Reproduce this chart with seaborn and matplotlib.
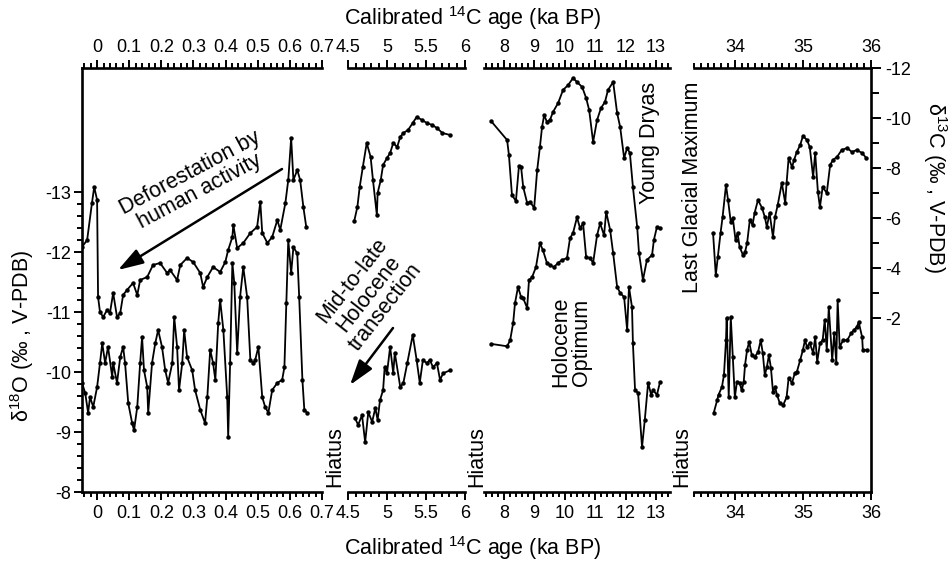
import numpy as np
import matplotlib
matplotlib.use("Agg")
import matplotlib.pyplot as plt
import seaborn as sns
from matplotlib.ticker import FixedLocator, MultipleLocator, FuncFormatter
from matplotlib.patches import FancyArrowPatch

sns.set_style("ticks")
plt.rcParams["font.family"] = ["Liberation Sans", "DejaVu Sans"]
plt.rcParams["mathtext.fontset"] = "custom"
plt.rcParams["mathtext.rm"] = "Liberation Sans"
plt.rcParams["mathtext.it"] = "Liberation Sans:italic"
plt.rcParams["axes.unicode_minus"] = False
for key in ("text.color", "axes.labelcolor", "xtick.color", "ytick.color", "axes.edgecolor"):
    plt.rcParams[key] = "black"

# ---------------- data: recent (0-0.7 ka) ----------------
age_c13_recent = [-0.047, -0.031, -0.016, -0.009, 0.000, 0.003, 0.009, 0.019, 0.031, 0.040,
                  0.050, 0.062, 0.072, 0.081, 0.093, 0.112, 0.125, 0.134, 0.156, 0.174,
                  0.196, 0.218, 0.227, 0.249, 0.259, 0.280, 0.299, 0.321, 0.330, 0.343,
                  0.361, 0.383, 0.399, 0.408, 0.421, 0.424, 0.436, 0.455, 0.477, 0.498,
                  0.508, 0.514, 0.530, 0.545, 0.561, 0.570, 0.586, 0.595, 0.604, 0.611,
                  0.623, 0.632, 0.642, 0.651]
c13_recent = [-4.84, -5.12, -6.60, -7.24, -6.72, -2.84, -2.24, -2.04, -2.32, -2.20,
              -3.00, -2.04, -2.20, -2.92, -3.12, -3.40, -2.92, -3.52, -3.64, -4.12,
              -4.20, -3.80, -3.92, -3.52, -4.12, -4.40, -4.24, -3.80, -3.24, -3.64,
              -4.04, -3.84, -4.24, -4.72, -5.24, -5.72, -4.80, -5.00, -5.40, -5.64,
              -6.64, -5.40, -5.00, -5.24, -5.92, -5.52, -6.60, -7.52, -9.20, -7.52,
              -7.92, -7.52, -6.44, -5.64]
age_o18_recent = [-0.047, -0.037, -0.028, -0.022, -0.012, 0.000, 0.009, 0.016, 0.025, 0.034,
                  0.047, 0.050, 0.062, 0.072, 0.081, 0.087, 0.097, 0.109, 0.115, 0.125,
                  0.134, 0.140, 0.146, 0.156, 0.159, 0.171, 0.181, 0.190, 0.202, 0.212,
                  0.221, 0.234, 0.240, 0.249, 0.255, 0.265, 0.271, 0.280, 0.296, 0.305,
                  0.321, 0.336, 0.343, 0.352, 0.361, 0.368, 0.377, 0.383, 0.393, 0.405,
                  0.408, 0.414, 0.421, 0.427, 0.436, 0.445, 0.455, 0.467, 0.477, 0.486,
                  0.492, 0.502, 0.514, 0.523, 0.533, 0.545, 0.561, 0.576, 0.583, 0.589,
                  0.595, 0.604, 0.611, 0.623, 0.629, 0.639, 0.645, 0.654]
o18_recent = [-9.82, -9.65, -9.32, -9.58, -9.42, -9.75, -10.15, -10.48, -10.15, -10.42,
              -9.92, -10.15, -9.82, -10.25, -10.42, -10.15, -9.48, -9.15, -9.03, -9.42,
              -10.15, -10.58, -10.03, -9.75, -9.32, -10.15, -10.48, -10.70, -10.42, -10.03,
              -9.82, -10.15, -10.92, -10.42, -9.70, -10.15, -10.70, -10.25, -10.03, -9.70,
              -9.37, -9.15, -9.58, -10.37, -10.15, -9.87, -10.82, -11.20, -10.70, -9.58,
              -8.92, -10.15, -11.82, -11.48, -10.32, -11.25, -11.75, -11.25, -10.20, -10.15,
              -10.20, -10.42, -9.58, -9.42, -9.32, -9.70, -9.82, -9.87, -10.08, -11.15,
              -12.20, -11.65, -12.08, -11.98, -11.25, -9.87, -9.37, -9.32]

# ---------------- data: mid Holocene (4.5-6 ka) ----------------
age_c13_mid = [4.58, 4.62, 4.65, 4.69, 4.74, 4.79, 4.82, 4.87, 4.88, 4.92,
               4.95, 5.00, 5.04, 5.08, 5.13, 5.17, 5.21, 5.27, 5.33, 5.38,
               5.45, 5.51, 5.58, 5.64, 5.71, 5.81]
c13_mid = [-5.88, -6.44, -7.24, -8.04, -9.00, -8.44, -7.52, -6.12, -7.00, -7.52,
           -8.12, -8.40, -8.60, -9.00, -8.84, -9.24, -9.40, -9.52, -9.80, -10.04,
           -9.92, -9.80, -9.72, -9.60, -9.40, -9.32]
age_o18_mid = [4.59, 4.63, 4.68, 4.72, 4.76, 4.81, 4.85, 4.88, 4.91, 4.95,
               4.97, 5.00, 5.04, 5.08, 5.10, 5.17, 5.21, 5.26, 5.33, 5.38,
               5.42, 5.46, 5.51, 5.55, 5.59, 5.64, 5.68, 5.72, 5.81]
o18_mid = [-9.23, -9.12, -9.28, -8.83, -9.33, -9.17, -9.40, -9.20, -9.53, -9.70,
           -10.08, -9.98, -10.42, -9.98, -10.32, -9.75, -9.82, -10.15, -10.62, -10.20,
           -9.82, -10.20, -10.15, -10.20, -10.08, -10.15, -9.87, -9.98, -10.03]

# ---------------- data: early Holocene / deglacial (7.3-13.5 ka) ----------------
age_c13_early = [7.57, 8.10, 8.16, 8.26, 8.39, 8.49, 8.56, 8.63, 8.76, 8.86,
                 8.99, 9.09, 9.18, 9.25, 9.32, 9.41, 9.51, 9.61, 9.78, 9.94,
                 10.11, 10.27, 10.40, 10.57, 10.70, 10.80, 10.93, 11.06, 11.19, 11.32,
                 11.42, 11.59, 11.72, 11.82, 11.95, 12.05, 12.14, 12.24, 12.38, 12.44,
                 12.57, 12.70, 12.87, 12.93, 13.03, 13.13]
c13_early = [-9.88, -9.12, -8.52, -6.92, -6.68, -8.08, -8.04, -7.24, -6.60, -6.64,
             -6.40, -7.92, -8.84, -9.64, -10.12, -9.84, -9.92, -10.24, -10.60, -11.12,
             -11.32, -11.60, -11.44, -11.24, -10.80, -10.32, -9.04, -9.92, -10.40, -10.64,
             -11.12, -11.44, -10.20, -9.64, -8.40, -8.80, -8.60, -7.24, -5.64, -4.60,
             -3.52, -4.32, -4.52, -5.12, -5.64, -5.60]
age_o18_early = [7.57, 8.10, 8.20, 8.30, 8.36, 8.46, 8.56, 8.63, 8.76, 8.82,
                 8.92, 9.05, 9.18, 9.28, 9.41, 9.51, 9.64, 9.78, 9.91, 10.07,
                 10.17, 10.27, 10.40, 10.50, 10.60, 10.70, 10.83, 10.93, 11.06, 11.16,
                 11.29, 11.36, 11.49, 11.59, 11.72, 11.82, 11.95, 12.05, 12.11, 12.21,
                 12.24, 12.31, 12.41, 12.54, 12.63, 12.74, 12.84, 12.90, 13.03, 13.13]
o18_early = [-10.47, -10.43, -10.53, -10.82, -11.15, -11.42, -11.25, -11.23, -11.07, -11.53,
             -11.58, -11.75, -12.15, -12.03, -11.82, -11.78, -11.75, -11.82, -11.87, -11.90,
             -12.23, -12.32, -12.58, -12.40, -12.48, -11.92, -11.90, -11.82, -12.28, -12.48,
             -12.28, -12.67, -12.37, -11.98, -11.42, -11.32, -11.25, -10.70, -11.42, -11.08,
             -10.48, -9.70, -9.65, -8.75, -9.20, -9.82, -9.62, -9.70, -9.62, -9.83]

# ---------------- data: glacial (33.4-36 ka) ----------------
age_c13_glacial = [33.68, 33.72, 33.75, 33.79, 33.82, 33.87, 33.90, 33.94, 33.97, 34.01,
                   34.04, 34.07, 34.12, 34.15, 34.18, 34.22, 34.26, 34.29, 34.34, 34.40,
                   34.44, 34.47, 34.51, 34.56, 34.59, 34.63, 34.69, 34.74, 34.76, 34.79,
                   34.84, 34.87, 34.91, 34.96, 35.00, 35.06, 35.10, 35.15, 35.18, 35.22,
                   35.25, 35.29, 35.35, 35.40, 35.44, 35.50, 35.57, 35.65, 35.72, 35.79,
                   35.87, 35.93]
c13_glacial = [-5.40, -3.72, -4.44, -5.40, -6.04, -7.32, -6.72, -5.84, -6.00, -5.12,
               -5.40, -4.84, -4.52, -4.64, -5.00, -5.92, -5.72, -6.20, -6.72, -6.40,
               -6.04, -5.64, -6.20, -5.24, -6.04, -6.52, -7.40, -6.60, -7.40, -8.40,
               -8.04, -8.32, -8.64, -8.92, -9.28, -9.12, -8.84, -7.64, -8.60, -7.04,
               -6.44, -7.24, -7.00, -8.12, -8.32, -8.44, -8.72, -8.80, -8.64, -8.72,
               -8.60, -8.40]
age_o18_glacial = [33.69, 33.74, 33.76, 33.81, 33.84, 33.87, 33.88, 33.91, 33.94, 33.97,
                   34.00, 34.03, 34.07, 34.10, 34.13, 34.15, 34.18, 34.21, 34.25, 34.29,
                   34.34, 34.38, 34.41, 34.44, 34.47, 34.50, 34.53, 34.56, 34.59, 34.62,
                   34.66, 34.71, 34.76, 34.79, 34.84, 34.88, 34.91, 34.96, 35.00, 35.03,
                   35.06, 35.10, 35.15, 35.18, 35.21, 35.25, 35.29, 35.32, 35.35, 35.38,
                   35.43, 35.46, 35.49, 35.51, 35.54, 35.59, 35.65, 35.71, 35.75, 35.79,
                   35.82, 35.87, 35.88, 35.94]
o18_glacial = [-9.32, -9.53, -9.62, -9.75, -9.95, -10.53, -10.90, -9.58, -10.92, -10.25,
               -9.58, -9.83, -9.82, -9.70, -9.83, -10.12, -10.37, -10.50, -10.28, -10.25,
               -10.33, -10.53, -10.32, -9.95, -10.08, -10.28, -10.07, -9.67, -9.75, -9.62,
               -9.48, -9.45, -9.58, -9.90, -9.82, -9.98, -10.00, -10.20, -10.37, -10.53,
               -10.42, -10.48, -10.32, -10.58, -10.17, -10.48, -10.53, -10.87, -10.37, -11.08,
               -10.20, -10.65, -10.15, -11.20, -10.42, -10.53, -10.53, -10.65, -10.70, -10.75,
               -10.83, -10.58, -10.37, -10.37]

# axis ticks
o18_ticks = [-8, -9, -10, -11, -12, -13]
c13_ticks = [-12, -10, -8, -6, -4, -2]

W, H = 949, 564


def fx(x):
    return x / W


def fy(y):
    return 1 - y / H


panels = [
    dict(rect=(82, 322), xlim=(-0.047, 0.70), major=[0, 0.1, 0.2, 0.3, 0.4, 0.5, 0.6, 0.7],
         minor=0.02, age_c=age_c13_recent, c13=c13_recent, age_o=age_o18_recent, o18=o18_recent),
    dict(rect=(348, 465), xlim=(4.5, 6.0), major=[4.5, 5, 5.5, 6], minor=0.1,
         age_c=age_c13_mid, c13=c13_mid, age_o=age_o18_mid, o18=o18_mid),
    dict(rect=(484, 670), xlim=(7.34, 13.46), major=[8, 9, 10, 11, 12, 13], minor=0.2,
         age_c=age_c13_early, c13=c13_early, age_o=age_o18_early, o18=o18_early),
    dict(rect=(694, 871), xlim=(33.4, 36.0), major=[34, 35, 36], minor=0.1,
         age_c=age_c13_glacial, c13=c13_glacial, age_o=age_o18_glacial, o18=o18_glacial),
]

fig = plt.figure(figsize=(9.49, 5.64), dpi=100)
top_px, bot_px = 68, 492
spine_w = 1.9
tick_fs = 13
label_fs = 15.5
line_kw = dict(color="black", linewidth=1.3, marker="o", markersize=3.2,
               markeredgewidth=0, estimator=None, sort=False)

for i, p in enumerate(panels):
    l, r = p["rect"]
    ax = fig.add_axes([fx(l), fy(bot_px), fx(r - l), (bot_px - top_px) / H])
    ax2 = ax.twinx()
    sns.lineplot(x=p["age_o"], y=p["o18"], ax=ax, **line_kw)
    sns.lineplot(x=p["age_c"], y=p["c13"], ax=ax2, **line_kw)
    ax.set_xlim(*p["xlim"])
    ax.set_ylim(-8, -15.07)
    ax2.set_ylim(4.96, -12)
    ax.set_xlabel("")
    ax.set_ylabel("")
    ax2.set_ylabel("")

    for s in ax2.spines.values():
        s.set_visible(False)
    ax.spines["left"].set_visible(i == 0)
    ax.spines["right"].set_visible(False)
    for s in ("top", "bottom", "left"):
        ax.spines[s].set_linewidth(spine_w)
    if i == len(panels) - 1:
        ax2.spines["right"].set_visible(True)
        ax2.spines["right"].set_linewidth(spine_w)

    ax.xaxis.set_major_locator(FixedLocator(p["major"]))
    ax.xaxis.set_minor_locator(MultipleLocator(p["minor"]))
    ax.xaxis.set_major_formatter(FuncFormatter(lambda v, pos: f"{v:g}"))
    ax.tick_params(axis="x", which="both", direction="out", top=True, bottom=True,
                   labeltop=True, labelbottom=True, labelsize=tick_fs, width=1.4, pad=3)
    ax.tick_params(axis="x", which="major", length=6)
    ax.tick_params(axis="x", which="minor", length=3.5)

    if i == 0:
        ax.yaxis.set_major_locator(FixedLocator(o18_ticks))
        ax.yaxis.set_minor_locator(FixedLocator(np.round(np.arange(-13, -7.99, 0.2), 2)))
        ax.yaxis.set_major_formatter(FuncFormatter(lambda v, pos: f"{v:g}"))
        ax.tick_params(axis="y", which="both", direction="out", left=True, right=False,
                       labelsize=tick_fs, width=1.4, pad=2)
        ax.tick_params(axis="y", which="major", length=6)
        ax.tick_params(axis="y", which="minor", length=3.5)
    else:
        ax.set_yticks([])

    if i == len(panels) - 1:
        ax2.yaxis.set_major_locator(FixedLocator(c13_ticks))
        ax2.yaxis.set_minor_locator(FixedLocator(np.arange(-12, -1, 1)))
        ax2.yaxis.set_major_formatter(FuncFormatter(lambda v, pos: f"{v:g}"))
        ax2.tick_params(axis="y", which="both", direction="out", right=True, left=False,
                        labelsize=tick_fs, width=1.4, pad=3)
        ax2.tick_params(axis="y", which="major", length=7)
        ax2.tick_params(axis="y", which="minor", length=6)
    else:
        ax2.set_yticks([])

# axis titles
xlab = r"Calibrated $\mathregular{^{14}}$C age (ka BP)"
fig.text(fx(473), fy(18), xlab, ha="center", va="center", fontsize=label_fs)
fig.text(fx(473), fy(548), xlab, ha="center", va="center", fontsize=label_fs)
fig.text(fx(22), fy(336), r"δ$\mathregular{^{18}}$O (‰ , V-PDB)", rotation=90,
         ha="center", va="center", fontsize=label_fs)
fig.text(fx(935), fy(188), r"δ$\mathregular{^{13}}$C (‰ , V-PDB)", rotation=270,
         ha="center", va="center", fontsize=label_fs)

# annotations
txt_kw = dict(ha="center", va="center", fontsize=label_fs)
fig.text(fx(195), fy(182), "Deforestation by\nhuman activity", rotation=28,
         linespacing=1.0, **txt_kw)
fig.text(fx(369), fy(294), "Mid-to-late\nHolocene\ntransection", rotation=52,
         linespacing=1.0, **txt_kw)
fig.text(fx(650), fy(143), "Young Dryas", rotation=90, **txt_kw)
fig.text(fx(571), fy(342), "Holocene\nOptimum", rotation=90, linespacing=1.0, **txt_kw)
fig.text(fx(692), fy(187), "Last Glacial Maximum", rotation=90, **txt_kw)
for hx in (335, 477, 682):
    fig.text(fx(hx), fy(487), "Hiatus", rotation=90, ha="center", va="bottom", fontsize=label_fs)

arrow_kw = dict(transform=fig.transFigure, arrowstyle="-|>,head_length=1.1,head_width=0.35",
                mutation_scale=14, lw=1.8, color="black", shrinkA=0, shrinkB=0)
fig.add_artist(FancyArrowPatch((fx(282), fy(169)), (fx(118), fy(270)), **arrow_kw))
fig.add_artist(FancyArrowPatch((fx(393), fy(328)), (fx(350), fy(385)), **arrow_kw))

fig.savefig("out.png", dpi=100)
